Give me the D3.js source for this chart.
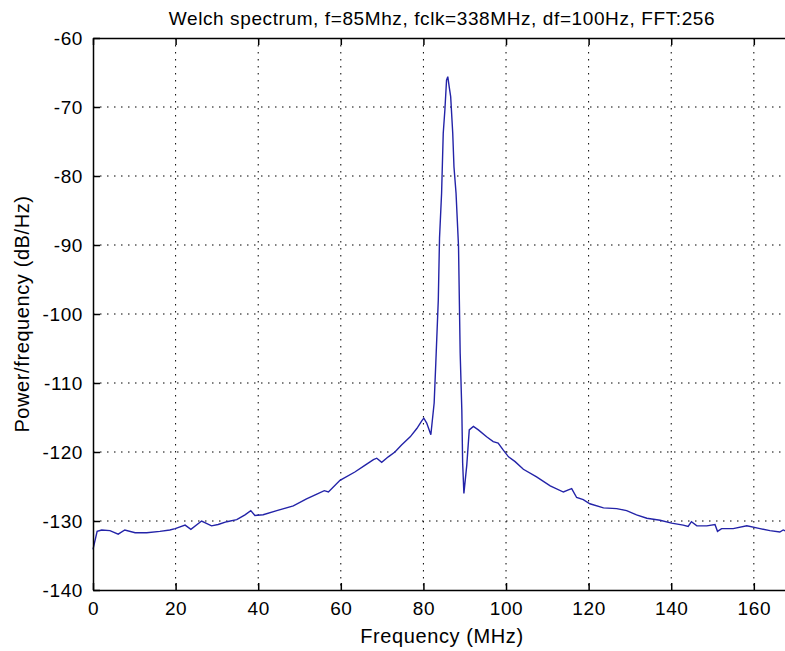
<!DOCTYPE html>
<html>
<head>
<meta charset="utf-8">
<script src="https://cdn.jsdelivr.net/npm/d3@7"></script>
<style>
  body { margin: 0; background: #fff; }
  text { font-family: "Liberation Sans", Arial, sans-serif; fill: #000; letter-spacing: 0.6px; }
</style>
</head>
<body>
<div id="chart"></div>
<script>
// values
const freqMHz = [0, 1, 2.1, 4.1, 6.1, 7.7, 10.2, 13, 16.2, 18.6, 19.9, 22.3, 23.7, 26.3, 28.7, 30.3,
  32.4, 34.8, 36.8, 38.2, 39.2, 41.2, 44.5, 48.5, 51.7, 54.2, 56, 57, 59.8, 63.4, 65.9, 67.9, 68.7,
  69.9, 71.5, 73.1, 74.7, 76.8, 78.4, 79.6, 80.1, 80.8, 81.8, 82.6, 83.0, 83.6, 83.9, 84.4, 84.8,
  85.2, 85.6, 85.9, 86.3, 86.6, 87.1, 87.4, 87.9, 88.5, 88.7, 88.9, 89.3, 89.5, 89.8, 90.5, 91.1,
  92.1, 93.3, 95.3, 96.9, 98.1, 99.3, 100.6, 102.2, 104.2, 107.4, 110.7, 113.9, 115.1, 115.9,
  117.1, 118.7, 120.3, 123.6, 126.8, 129.2, 131.6, 134.1, 137.3, 140.1, 142.9, 144.1, 144.9,
  146.2, 148.6, 150.6, 151.2, 152.2, 155.0, 158.3, 161.5, 163.9, 166.3, 167.1, 169];
const powerDb = [-134.1, -131.5, -131.3, -131.4, -131.9, -131.3, -131.7, -131.7, -131.5, -131.3,
  -131.1, -130.6, -131.2, -130.0, -130.7, -130.5, -130.1, -129.8, -129.1, -128.5, -129.2, -129.1,
  -128.5, -127.8, -126.8, -126.1, -125.6, -125.8, -124.1, -122.9, -121.9, -121.1, -120.9, -121.5,
  -120.7, -120.0, -119.0, -117.8, -116.6, -115.5, -115.1, -115.8, -117.5, -112.9, -107.1, -98.0,
  -89.0, -82.5, -73.8, -70.4, -66.1, -65.6, -67.3, -68.5, -73.8, -78.7, -82.5, -90.2, -98.0,
  -105.7, -113.9, -121.6, -126.0, -121.9, -116.8, -116.3, -116.8, -117.8, -118.5, -118.7, -119.7,
  -120.7, -121.4, -122.5, -123.6, -124.9, -125.8, -125.5, -125.3, -126.6, -126.9, -127.5, -128.1,
  -128.2, -128.5, -129.1, -129.6, -129.9, -130.3, -130.6, -130.8, -130.1, -130.7, -130.7, -130.5,
  -131.5, -131.1, -131.1, -130.7, -131.1, -131.4, -131.6, -131.3, -131.8];
const xTicks = [0, 20, 40, 60, 80, 100, 120, 140, 160];
const yTicks = [-60, -70, -80, -90, -100, -110, -120, -130, -140];

const width = 785, height = 651;
const margin = {top: 38, right: -6, bottom: 61, left: 93};

const svg = d3.select("#chart").append("svg")
    .attr("width", width)
    .attr("height", height);

const x = d3.scaleLinear().domain([0, 169]).range([margin.left, width - margin.right]);
const y = d3.scaleLinear().domain([-140, -60]).range([height - margin.bottom, margin.top]);

// dotted grid
svg.append("g").selectAll("line")
    .data(xTicks.slice(1))
    .join("line")
    .attr("x1", d => x(d)).attr("x2", d => x(d))
    .attr("y1", y(-60)).attr("y2", y(-140))
    .attr("stroke", "#000").attr("stroke-dasharray", "1.5,5.5");
svg.append("g").selectAll("line")
    .data(yTicks.slice(1, -1))
    .join("line")
    .attr("x1", x(0)).attr("x2", x(169))
    .attr("y1", d => y(d)).attr("y2", d => y(d))
    .attr("stroke", "#000").attr("stroke-dasharray", "1.5,5.5");

// the spectrum
const line = d3.line().x((d, i) => x(freqMHz[i])).y(d => y(d));
svg.append("path")
    .datum(powerDb)
    .attr("d", line)
    .attr("fill", "none")
    .attr("stroke", "#2323a8")
    .attr("stroke-width", 1.4);

// axes with inward ticks, matlab style
const tickLen = 7;
const xAxisB = svg.append("g").attr("transform", `translate(0,${y(-140)})`)
    .call(d3.axisBottom(x).tickValues(xTicks).tickSizeInner(-tickLen).tickSizeOuter(0).tickPadding(12));
const xAxisT = svg.append("g").attr("transform", `translate(0,${y(-60)})`)
    .call(d3.axisTop(x).tickValues(xTicks).tickSizeInner(-tickLen).tickSizeOuter(0).tickFormat(""));
const yAxis = svg.append("g").attr("transform", `translate(${x(0)},0)`)
    .call(d3.axisLeft(y).tickValues(yTicks).tickSizeInner(-tickLen).tickSizeOuter(0).tickPadding(10));

[xAxisB, xAxisT, yAxis].forEach(g => {
    g.selectAll("path").attr("stroke", "#000").attr("stroke-width", 1.5);
    g.selectAll("line").attr("stroke", "#000").attr("stroke-width", 1.5);
    g.selectAll("text").style("font-size", "19px").attr("fill", "#000");
});
yAxis.selectAll("text").text(d => d < 0 ? "-" + Math.abs(d) : d);

svg.append("text")
    .attr("x", (x(0) + x(169)) / 2)
    .attr("y", 25)
    .attr("text-anchor", "middle")
    .style("font-size", "19px")
    .text("Welch spectrum, f=85Mhz, fclk=338MHz, df=100Hz, FFT:256");

svg.append("text")
    .attr("x", (x(0) + x(169)) / 2)
    .attr("y", 643)
    .attr("text-anchor", "middle")
    .style("font-size", "20px")
    .text("Frequency (MHz)");

svg.append("text")
    .attr("transform", `translate(29,${(y(-60) + y(-140)) / 2}) rotate(-90)`)
    .attr("text-anchor", "middle")
    .style("font-size", "20px")
    .text("Power/frequency (dB/Hz)");
</script>
</body>
</html>
